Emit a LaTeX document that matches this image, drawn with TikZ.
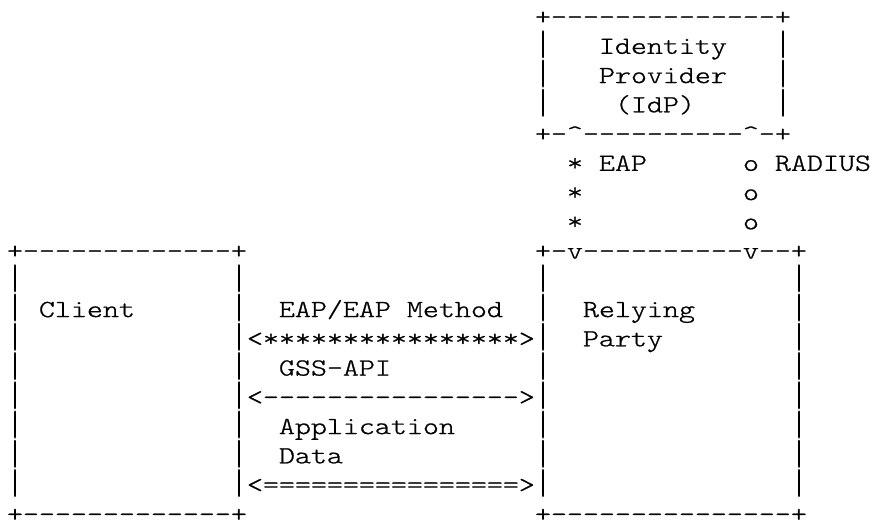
\documentclass[tikz,border=0pt]{standalone}
\usepackage{fontspec}
\usepackage{graphicx}
\setmonofont{lmmonolt10-regular.otf}[FakeBold=0.8]
% one character cell is 16 units wide, one text line 29.25 units tall;
% the typewriter glyphs are widened to fill a 16-unit cell
\newcommand\cell[4]{\node[ascii] (#1) at ({7+16*(#2)},{24.6+29.25*(#3)}) {\scalebox{1.235}[1]{#4}};}
% vertical box edges: a bar almost one line tall, so that the bars of
% consecutive lines join up into one line
\newsavebox\barbox
\newcommand\edgebar{\sbox\barbox{\resizebox*{12pt}{20.9pt}{|}}%
  \raisebox{\dimexpr\dp\barbox-3.3pt\relax}{\usebox\barbox}}
\newcommand\edge[3]{\node[ascii] (#1) at ({7+16*(#2)},{24.6+29.25*(#3)}) {\edgebar};}
\begin{document}
\begin{tikzpicture}[x=0.75pt,y=-0.75pt,
  ascii/.style={anchor=base west,inner sep=0pt,outer sep=0pt,text depth=0pt,
    font=\ttfamily\fontsize{18.5}{18.5}\selectfont,text=black}]
\useasboundingbox (0,0) rectangle (872,523);

% Identity Provider box
\cell{idp-top}{33}{0}{+--------------+}
\foreach \r in {1,2,3}{
  \edge{idp-l\r}{33}{\r}
  \edge{idp-r\r}{48}{\r}
}
\cell{idp-name1}{37}{1}{Identity}
\cell{idp-name2}{37}{2}{Provider}
\cell{idp-name3}{38}{3}{(IdP)}
\cell{idp-bot}{33}{4}{+-\textasciicircum----------\textasciicircum-+}

% EAP and RADIUS links between the IdP and the Relying Party
\foreach \r in {5,6,7}{
  \cell{eap-\r}{35}{\r}{*}
  \cell{rad-\r}{46}{\r}{o}
}
\cell{eap-label}{37}{5}{EAP}
\cell{rad-label}{48}{5}{RADIUS}

% Client and Relying Party boxes
\cell{cl-top}{0}{8}{+-------------+}
\cell{rp-top}{33}{8}{+-v----------v--+}
\foreach \r in {9,...,16}{
  \edge{cl-l\r}{0}{\r}
  \edge{cl-r\r}{14}{\r}
  \edge{rp-l\r}{33}{\r}
  \edge{rp-r\r}{49}{\r}
}
\cell{cl-name}{2}{10}{Client}
\cell{rp-name1}{36}{10}{Relying}
\cell{rp-name2}{36}{11}{Party}
\cell{cl-bot}{0}{17}{+-------------+}
\cell{rp-bot}{33}{17}{+---------------+}

% exchanges between Client and Relying Party
\cell{eap-method}{17}{10}{EAP/EAP Method}
\cell{eap-arrow}{15}{11}{<****************>}
\cell{gss-label}{17}{12}{GSS-API}
\cell{gss-arrow}{15}{13}{<---------------->}
\cell{app-label1}{17}{14}{Application}
\cell{app-label2}{17}{15}{Data}
\cell{app-arrow}{15}{16}{<================>}
\end{tikzpicture}
\end{document}
